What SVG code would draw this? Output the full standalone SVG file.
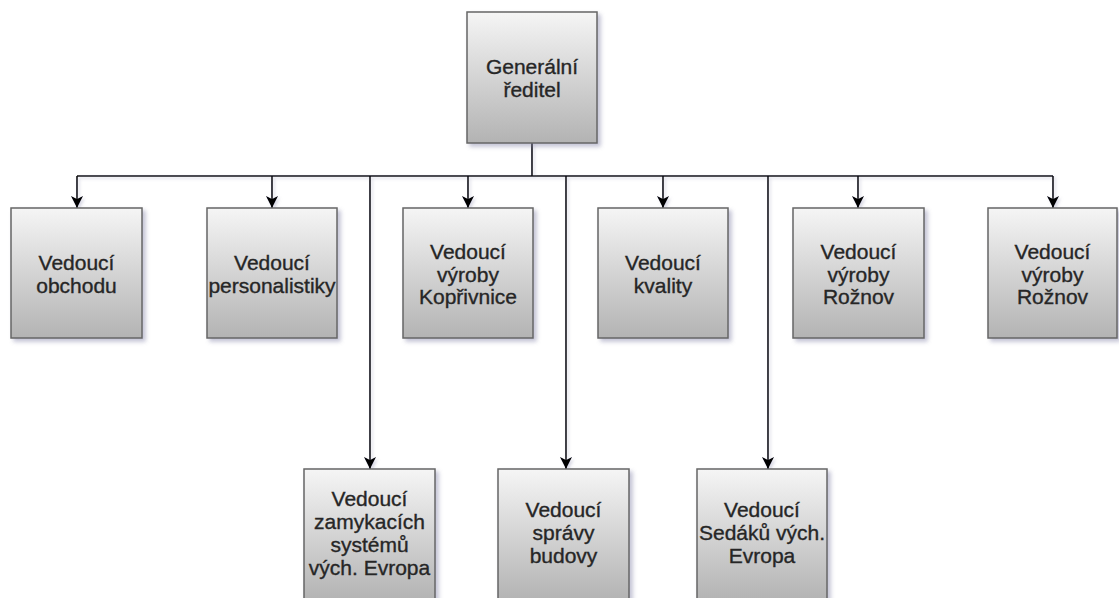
<svg xmlns="http://www.w3.org/2000/svg" width="1119" height="598" viewBox="0 0 1119 598">
  <defs>
    <linearGradient id="boxFill" x1="0" y1="0" x2="0" y2="1">
      <stop offset="0" stop-color="#f5f5f5"/>
      <stop offset="1" stop-color="#b3b3b3"/>
    </linearGradient>
    <filter id="boxShadow" x="-10%" y="-10%" width="130%" height="130%">
      <feDropShadow dx="3" dy="3" stdDeviation="2" flood-color="#7878a0" flood-opacity="0.45"/>
    </filter>
    <filter id="lineShadow" x="-50%" y="-10%" width="200%" height="130%">
      <feDropShadow dx="2" dy="2" stdDeviation="1.5" flood-color="#8080a8" flood-opacity="0.3"/>
    </filter>
    <marker id="arrow" viewBox="0 0 12 12" refX="12" refY="6" markerWidth="12" markerHeight="12" markerUnits="userSpaceOnUse" orient="auto">
      <path d="M0,0 L12,6 L0,12 L3,6 Z" fill="#000"/>
    </marker>
  </defs>
  <style>
    .box { fill: url(#boxFill); stroke: #666; stroke-width: 1.5; filter: url(#boxShadow); }
    .lbl { font-family: "Liberation Sans", Arial, sans-serif; font-size: 21px; fill: #262626; stroke: #262626; stroke-width: 0.35; text-anchor: middle; }
    .wire { fill: none; stroke: #111; stroke-width: 1.6; }
  </style>

  <rect width="1119" height="598" fill="#ffffff"/>

  <!-- connectors -->
  <g id="connectors" filter="url(#lineShadow)">
    <path class="wire" d="M532,143 V176"/>
    <path class="wire" d="M77,176 H1053"/>
    <path class="wire" d="M77,176 V208" marker-end="url(#arrow)"/>
    <path class="wire" d="M272,176 V208" marker-end="url(#arrow)"/>
    <path class="wire" d="M468,176 V208" marker-end="url(#arrow)"/>
    <path class="wire" d="M663,176 V208" marker-end="url(#arrow)"/>
    <path class="wire" d="M858,176 V208" marker-end="url(#arrow)"/>
    <path class="wire" d="M1053,176 V208" marker-end="url(#arrow)"/>
    <path class="wire" d="M370,176 V469" marker-end="url(#arrow)"/>
    <path class="wire" d="M566,176 V469" marker-end="url(#arrow)"/>
    <path class="wire" d="M768,176 V469" marker-end="url(#arrow)"/>
  </g>

  <!-- top node -->
  <g id="generalni-reditel">
    <rect class="box" x="467" y="12" width="130" height="131"/>
    <text class="lbl" x="532" y="73.5">Generální</text>
    <text class="lbl" x="532" y="97">ředitel</text>
  </g>

  <!-- first row -->
  <g id="vedouci-obchodu">
    <rect class="box" x="11" y="208" width="131" height="130"/>
    <text class="lbl" x="76.5" y="270">Vedoucí</text>
    <text class="lbl" x="76.5" y="292.5">obchodu</text>
  </g>
  <g id="vedouci-personalistiky">
    <rect class="box" x="207" y="208" width="130" height="130"/>
    <text class="lbl" x="272" y="270">Vedoucí</text>
    <text class="lbl" x="272" y="292.5">personalistiky</text>
  </g>
  <g id="vedouci-vyroby-koprivnice">
    <rect class="box" x="403" y="208" width="130" height="130"/>
    <text class="lbl" x="468" y="259">Vedoucí</text>
    <text class="lbl" x="468" y="281.5">výroby</text>
    <text class="lbl" x="468" y="304">Kopřivnice</text>
  </g>
  <g id="vedouci-kvality">
    <rect class="box" x="598" y="208" width="130" height="130"/>
    <text class="lbl" x="663" y="270">Vedoucí</text>
    <text class="lbl" x="663" y="292.5">kvality</text>
  </g>
  <g id="vedouci-vyroby-roznov-1">
    <rect class="box" x="793" y="208" width="131" height="130"/>
    <text class="lbl" x="858.5" y="259">Vedoucí</text>
    <text class="lbl" x="858.5" y="281.5">výroby</text>
    <text class="lbl" x="858.5" y="304">Rožnov</text>
  </g>
  <g id="vedouci-vyroby-roznov-2">
    <rect class="box" x="988" y="208" width="129" height="130"/>
    <text class="lbl" x="1052.5" y="259">Vedoucí</text>
    <text class="lbl" x="1052.5" y="281.5">výroby</text>
    <text class="lbl" x="1052.5" y="304">Rožnov</text>
  </g>

  <!-- second row -->
  <g id="vedouci-zamykacich-systemu">
    <rect class="box" x="304" y="469" width="131" height="131"/>
    <text class="lbl" x="369.5" y="505.5">Vedoucí</text>
    <text class="lbl" x="369.5" y="528.5">zamykacích</text>
    <text class="lbl" x="369.5" y="551.5">systémů</text>
    <text class="lbl" x="369.5" y="574.5">vých. Evropa</text>
  </g>
  <g id="vedouci-spravy-budovy">
    <rect class="box" x="498" y="469" width="131" height="131"/>
    <text class="lbl" x="563.5" y="517">Vedoucí</text>
    <text class="lbl" x="563.5" y="540">správy</text>
    <text class="lbl" x="563.5" y="563">budovy</text>
  </g>
  <g id="vedouci-sedaku">
    <rect class="box" x="697" y="469" width="130" height="131"/>
    <text class="lbl" x="762" y="517">Vedoucí</text>
    <text class="lbl" x="762" y="540">Sedáků vých.</text>
    <text class="lbl" x="762" y="563">Evropa</text>
  </g>
</svg>
